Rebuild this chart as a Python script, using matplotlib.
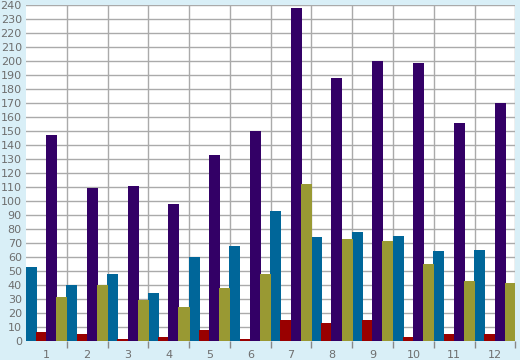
import matplotlib
matplotlib.use("Agg")
import matplotlib.pyplot as plt
import numpy as np

# valores
grupos = [1, 2, 3, 4, 5, 6, 7, 8, 9, 10, 11, 12]
serie_azul = [53, 40, 48, 34, 60, 68, 93, 74, 78, 75, 64, 65]
serie_vermelha = [6, 5, 1, 3, 8, 1, 15, 13, 15, 3, 5, 5]
serie_roxa = [147, 109, 111, 98, 133, 150, 238, 188, 200, 199, 156, 170]
serie_oliva = [31, 40, 29, 24, 38, 48, 112, 73, 71, 55, 43, 41]

fundo = "#d9eff7"
cor_texto = "#6e6e6e"

fig = plt.figure(figsize=(5.2, 3.6), dpi=100, facecolor=fundo)
ax = fig.add_axes([26 / 520, 19.3 / 360, 489.3 / 520, 335.4 / 360])
ax.set_facecolor("white")

x = np.array(grupos)
w = 0.25
series = [serie_azul, serie_vermelha, serie_roxa, serie_oliva]
cores = ["#006699", "#990000", "#330066", "#999933"]
for k, (vals, cor) in enumerate(zip(series, cores)):
    ax.bar(x - 0.375 + k * w, vals, width=w + 0.02, color=cor, zorder=3, linewidth=0)

ax.set_xlim(0.5, 12.5)
ax.set_ylim(0, 240)
ax.set_yticks(np.arange(0, 241, 10))
ax.set_xticks(x)
ax.set_xticks(np.arange(1.5, 12.6, 1), minor=True)

ax.grid(True, axis="y", color="#aaaaaa", linewidth=1, zorder=1)
ax.grid(True, axis="x", which="minor", color="#aaaaaa", linewidth=1, zorder=1)
ax.grid(False, axis="x", which="major")

for s in ax.spines.values():
    s.set_visible(False)

ax.tick_params(axis="y", length=0, pad=3, labelsize=8, labelcolor=cor_texto)
ax.tick_params(axis="x", which="major", length=0, pad=6.5, labelsize=8, labelcolor=cor_texto)
ax.tick_params(axis="x", which="minor", length=5, width=1, color="#888888", direction="out")

fig.savefig("out.png", dpi=100, facecolor=fundo)
